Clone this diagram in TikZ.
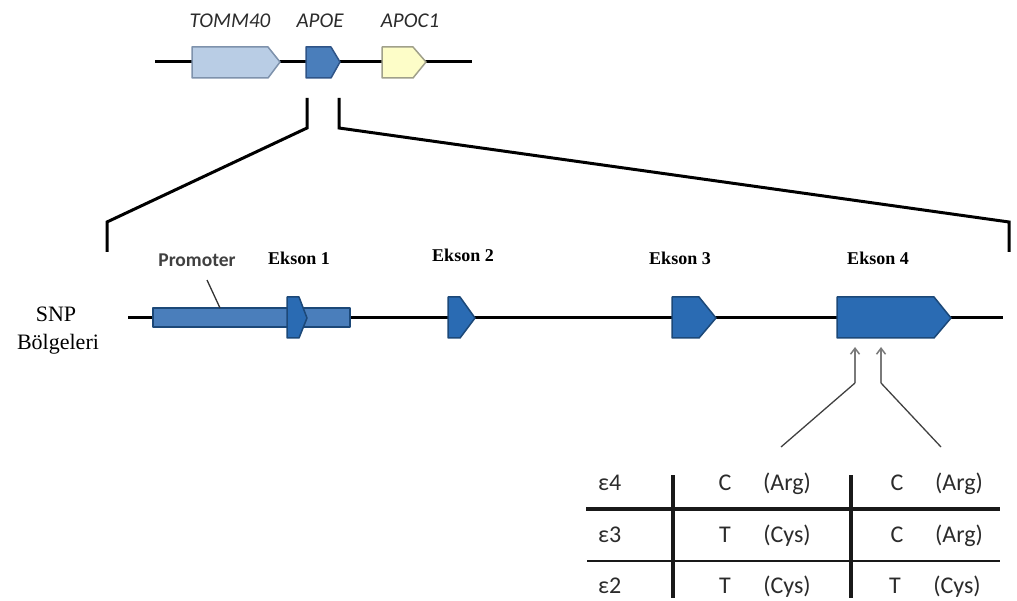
\documentclass[tikz,border=0pt]{standalone}
\usepackage{fontspec}
\setmainfont{Liberation Serif}
\setsansfont{Carlito}
\usetikzlibrary{arrows.meta}

\definecolor{tommfill}{HTML}{B9CDE5}
\definecolor{tommedge}{HTML}{7E92AC}
\definecolor{apoefill}{HTML}{4A7EBB}
\definecolor{apoeedge}{HTML}{2F5487}
\definecolor{apocfill}{HTML}{FDFDC8}
\definecolor{apocedge}{HTML}{A0A08A}
\definecolor{exonfill}{HTML}{2A6BB3}
\definecolor{exonedge}{HTML}{1C4878}
\definecolor{promfill}{HTML}{4A7EBB}
\definecolor{labelgray}{HTML}{2B2B2B}
\definecolor{snpgray}{HTML}{7A7A7A}

\tikzset{
  chrom/.style={line width=3pt, black},
  bracket/.style={line width=3pt, black, line join=miter},
  genebox/.style={line width=1.5pt, line join=round},
  genelabel/.style={font=\sffamily\itshape\fontsize{21}{24}\selectfont, text=labelgray, anchor=base, inner sep=0pt},
  exonlabel/.style={font=\bfseries\fontsize{18}{20}\selectfont, anchor=base, inner sep=0pt},
  snplabel/.style={font=\fontsize{22}{26}\selectfont, anchor=base, inner sep=0pt},
  celltext/.style={font=\sffamily\fontsize{24}{26}\selectfont, text=labelgray, anchor=base, inner sep=0pt},
  snparrow/.style={line width=1.5pt, snpgray, -{Straight Barb[length=6pt,width=9pt]}},
  snpline/.style={line width=1.3pt, black!75},
  thickrule/.style={line width=3.6pt, black!90},
  thinrule/.style={line width=1.5pt, black!90},
  colrule/.style={line width=3.2pt, black!90}
}

\begin{document}
\begin{tikzpicture}[x=1pt, y=-1pt]
        \useasboundingbox (0,0) rectangle (1017,601);

        % gene cluster
        \coordinate (topL) at (155,62);
        \coordinate (topR) at (472,62);
        \draw[chrom] (topL) -- (topR);
        \draw[genebox, fill=tommfill, draw=tommedge] (192,47) -- (268,47) -- (280,62) -- (268,78) -- (192,78) -- cycle;
        \draw[genebox, fill=apoefill, draw=apoeedge] (306,47) -- (331,47) -- (340,62) -- (331,78) -- (306,78) -- cycle;
        \draw[genebox, fill=apocfill, draw=apocedge] (382,47) -- (413,47) -- (426,62) -- (413,78) -- (382,78) -- cycle;
        \node[genelabel] at (230,28) (tomm) {TOMM40};
        \node[genelabel] at (320,28) (apoe) {APOE};
        \node[genelabel] at (410,28) (apoc) {APOC1};

        % zoom bracket
        \coordinate (bl1) at (307,98);
        \coordinate (bl2) at (307,128);
        \coordinate (bl3) at (107,222);
        \coordinate (bl4) at (107,252);
        \coordinate (br1) at (339,98);
        \coordinate (br2) at (339,128);
        \coordinate (br3) at (1009,222);
        \coordinate (br4) at (1009,252);
        \draw[bracket] (bl1) -- (bl2) -- (bl3) -- (bl4);
        \draw[bracket] (br1) -- (br2) -- (br3) -- (br4);

        % APOE gene
        \coordinate (mainL) at (128,318);
        \coordinate (mainR) at (1003,318);
        \draw[chrom] (mainL) -- (mainR);
        \draw[genebox, fill=promfill, draw=exonedge] (153,308) rectangle (350,327);
        \draw[genebox, fill=exonfill, draw=exonedge] (287,297) -- (299,297) -- (307,318) -- (299,338) -- (287,338) -- cycle;
        \draw[genebox, fill=exonfill, draw=exonedge] (448,297) -- (460,297) -- (475,318) -- (460,338) -- (448,338) -- cycle;
        \draw[genebox, fill=exonfill, draw=exonedge] (672,297) -- (699,297) -- (716,318) -- (699,338) -- (672,338) -- cycle;
        \draw[genebox, fill=exonfill, draw=exonedge] (837,297) -- (934,297) -- (951,318) -- (934,338) -- (837,338) -- cycle;

        \node[font=\sffamily\bfseries\fontsize{19.5}{22}\selectfont, text=black!75, anchor=base, inner sep=0pt] at (197,267) (prom) {Promoter};
        \coordinate (promA) at (207,280);
        \coordinate (promB) at (220,308);
        \draw[line width=1.3pt, black!80] (promA) -- (promB);

        \node[exonlabel] at (299,265) (ex1) {Ekson 1};
        \node[exonlabel] at (463,262) (ex2) {Ekson 2};
        \node[exonlabel] at (680,265) (ex3) {Ekson 3};
        \node[exonlabel] at (878,265) (ex4) {Ekson 4};

        \node[snplabel] at (56,322) (snp) {SNP};
        \node[snplabel] at (58,350) (bolg) {Bölgeleri};

        % SNP positions
        \coordinate (s1top) at (855,347);
        \coordinate (s1bot) at (855,383);
        \coordinate (s2top) at (881,347);
        \coordinate (s2bot) at (881,383);
        \coordinate (d1) at (781,447);
        \coordinate (d2) at (941,447);
        \draw[snparrow] (s1bot) -- (s1top);
        \draw[snparrow] (s2bot) -- (s2top);
        \draw[snpline] (d1) -- (s1bot);
        \draw[snpline] (d2) -- (s2bot);

        % allele table
        \draw[colrule] (673,475) -- (673,598);
        \draw[colrule] (851,475) -- (851,598);
        \draw[thickrule] (586,509) -- (1000,509);
        \draw[thinrule] (587,561) -- (1000,561);

        \node[celltext, anchor=base west] at (598,490) (e4) {ε4};
        \node[celltext, anchor=base west] at (598,542) (e3) {ε3};
        \node[celltext, anchor=base west] at (598,593) (e2) {ε2};

        \node[celltext] at (725,490) (e4a) {C};
        \node[celltext] at (787,490) (e4b) {(Arg)};
        \node[celltext] at (897,490) (e4c) {C};
        \node[celltext] at (959,490) (e4d) {(Arg)};

        \node[celltext] at (725,542) (e3a) {T};
        \node[celltext] at (787,542) (e3b) {(Cys)};
        \node[celltext] at (897,542) (e3c) {C};
        \node[celltext] at (959,542) (e3d) {(Arg)};

        \node[celltext] at (725,593) (e2a) {T};
        \node[celltext] at (787,593) (e2b) {(Cys)};
        \node[celltext] at (895,593) (e2c) {T};
        \node[celltext] at (957,593) (e2d) {(Cys)};

        \end{tikzpicture}
\end{document}
